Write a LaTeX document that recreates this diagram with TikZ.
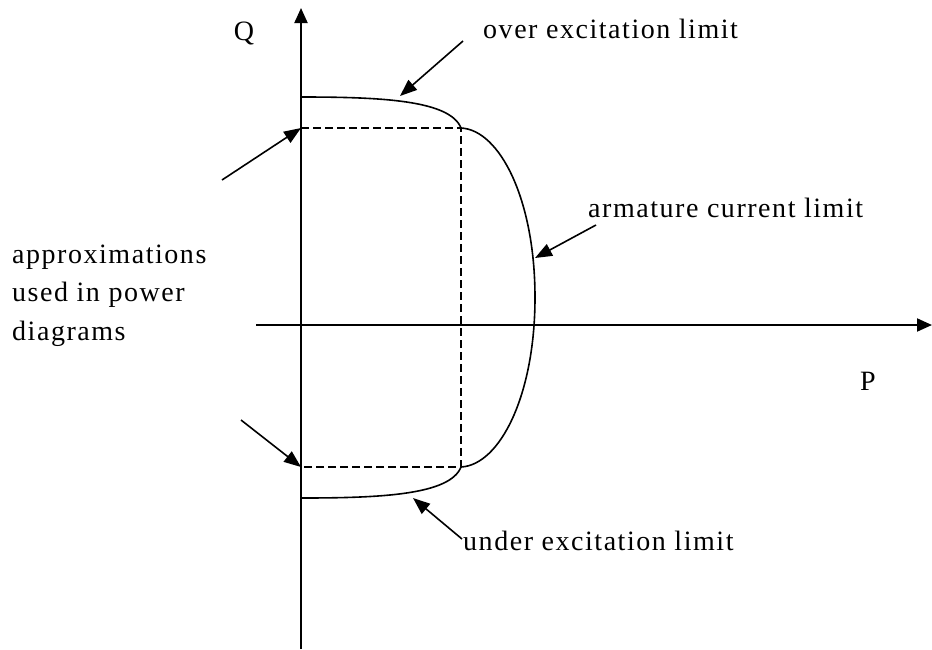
\documentclass[tikz,border=0pt]{standalone}
\usepackage{fontspec}
\setmainfont{Liberation Serif}[LetterSpace=5.5]
\usetikzlibrary{arrows.meta}
\tikzset{
  axis/.style={line width=2pt, -{Triangle[length=15pt,width=13pt]}},
  limitcurve/.style={line width=1.6pt},
  approx/.style={line width=1.6pt, dash pattern=on 8pt off 4pt},
  pointer/.style={line width=1.6pt, -{Triangle[length=17pt,width=13pt]}},
  lbl/.style={inner sep=0pt, font=\fontsize{28}{38.5}\selectfont}
}
\begin{document}
\begin{tikzpicture}[x=1pt,y=-1pt]
\useasboundingbox (0,0) rectangle (932,649);
% axes
\coordinate (qb) at (301,649);
\coordinate (qt) at (301,8);
\coordinate (pl) at (256,325);
\coordinate (pr) at (932,325);
\draw[axis] (qb) -- (qt);
\draw[axis] (pl) -- (pr);
% corner points
\coordinate (qtop) at (301,97);
\coordinate (qbot) at (301,498);
\coordinate (ca) at (461,128);
\coordinate (cb) at (461,467);
\coordinate (da) at (301,128);
\coordinate (db) at (301,467);
\coordinate (rm) at (535,297.5);
% limit curves
\draw[limitcurve] (qtop) .. controls (380,97) and (450,100) .. (ca);
\draw[limitcurve] (qbot) .. controls (380,498) and (450,495) .. (cb);
\draw[limitcurve] (ca) .. controls (500,130) and (535,200) .. (rm)
                       .. controls (535,395) and (500,465) .. (cb);
% dashed approximation
\draw[approx] (da) -- (ca) -- (cb) -- (db);
% labels
\node[lbl, anchor=base] (Q) at (244,40) {Q};
\node[lbl, anchor=base] (P) at (868,390) {P};
\node[lbl, anchor=base west] (over) at (483,38) {over excitation limit};
\node[lbl, anchor=base west] (arm) at (588,217) {armature current limit};
\node[lbl, anchor=base west] (under) at (463,550) {under excitation limit};
\node[lbl, anchor=base west, align=left] (appr) at (12,340)
  {approximations\\used in power\\diagrams};
% pointer arrows
\coordinate (t1) at (463,41);
\coordinate (h1) at (400,96);
\coordinate (t2) at (222,180);
\coordinate (t3) at (241,420);
\coordinate (t4) at (596,225);
\coordinate (h4) at (535,258);
\coordinate (t5) at (462,539);
\coordinate (h5) at (413,498);
\draw[pointer] (t1) -- (h1);
\draw[pointer] (t2) -- (da);
\draw[pointer] (t3) -- (db);
\draw[pointer] (t4) -- (h4);
\draw[pointer] (t5) -- (h5);
\end{tikzpicture}
\end{document}
